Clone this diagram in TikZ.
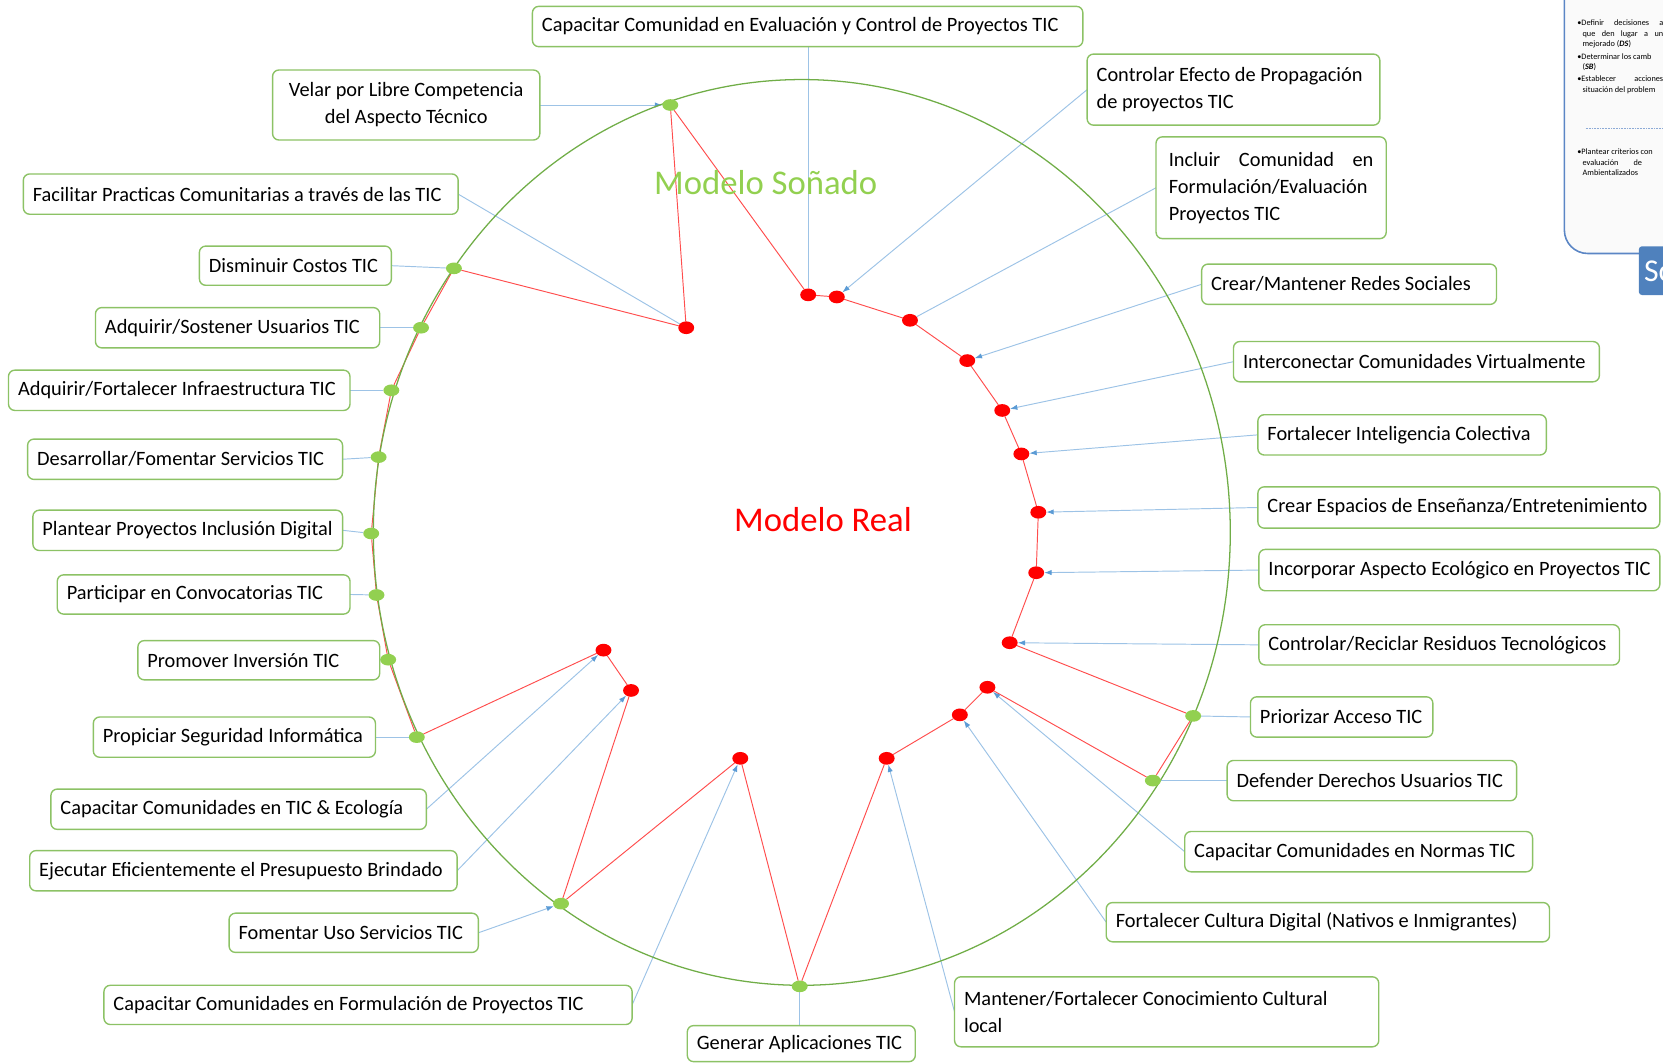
\documentclass[tikz,border=0pt]{standalone}
\usepackage{fontspec}
\setmainfont{Carlito}
\usetikzlibrary{shapes.geometric,arrows.meta}
\pgfdeclarelayer{bg}
\pgfsetlayers{bg,main}
\definecolor{boxgreen}{HTML}{8CC265}
\definecolor{dotgreen}{HTML}{92D050}
\definecolor{circgreen}{HTML}{70AD47}
\definecolor{dotred}{HTML}{FF0000}
\definecolor{redln}{HTML}{FF4D4D}
\definecolor{linkblue}{HTML}{9DC3E6}
\definecolor{tipblue}{HTML}{5B9BD5}
\definecolor{panelblue}{HTML}{5B86C5}
\definecolor{scblue}{HTML}{4F81BD}
\newcommand\addbox[6]{\node[box,minimum width={#4-#2},minimum height={#5-#3}] (#1) at ({(#2+#4)/2},{(#3+#5)/2}) {\makebox[\dimexpr#4pt-#2pt-18pt\relax][l]{#6}};}
\newcommand\addmbox[7]{\node[box,text width={#4-#2-18},align=#6,minimum height={#5-#3}] (#1) at ({(#2+#4)/2},{(#3+#5)/2}) {#7};}
\begin{document}
\begin{tikzpicture}[x=1pt,y=-1pt,
  box/.style={draw=boxgreen, line width=1.3pt, rounded corners=6pt, fill=white, inner xsep=9pt, inner ysep=0pt, outer sep=0pt, font=\fontsize{19.2}{25.5}\selectfont},
  rdot/.style={ellipse, fill=dotred, minimum width=15pt, minimum height=12pt, inner sep=0pt, outer sep=0pt},
  gdot/.style={ellipse, fill=dotgreen, minimum width=15pt, minimum height=11pt, inner sep=0pt, outer sep=0pt},
  link/.style={draw=linkblue, line width=0.9pt},
  arr/.style={link, -{Latex[length=7pt,width=5pt,color=tipblue]}},
  redpath/.style={draw=redln, line width=0.9pt},
  ptxt/.style={anchor=west, inner sep=0pt, font=\fontsize{7.8}{9}\selectfont},
]
\useasboundingbox (0,0) rectangle (1568,1002);
\clip (0,0) rectangle (1568,1002);

% big circle
\draw[circgreen, line width=1.2pt] (756,502) ellipse [x radius=404pt, y radius=427pt];

% titles
\node[text=dotgreen, font=\fontsize{32.7}{38}\selectfont] (sonado) at (722,172) {Modelo Soñado};
\node[text=dotred, font=\fontsize{32.7}{38}\selectfont] (real) at (776,490) {Modelo Real};

% right-top panel (cut)
\draw[panelblue, line width=1.5pt, fill=black!2, rounded corners=22pt] (1475,-40) rectangle (1620,239);
\node[ptxt] (p1) at (1487,21) {\makebox[81pt][s]{•Definir decisiones a}};
\node[ptxt] (p2) at (1492,32) {\makebox[76pt][s]{que den lugar a un}};
\node[ptxt] (p3) at (1492,42) {mejorado (\textbf{\textit{DS}})};
\node[ptxt] (p4) at (1487,53) {•Determinar los camb};
\node[ptxt] (p5) at (1492,63) {(\textbf{\textit{SB}})};
\node[ptxt] (p6) at (1487,74) {\makebox[81pt][s]{•Establecer acciones}};
\node[ptxt] (p7) at (1492,85) {situación del problem};
\draw[panelblue!70, densely dotted, line width=0.5pt] (1495,121) -- (1600,121);
\node[ptxt] (p8) at (1487,143) {•Plantear criterios con};
\node[ptxt] (p9) at (1492,153) {\makebox[56pt][s]{evaluación de}};
\node[ptxt] (p10) at (1492,163) {Ambientalizados};
\node[fill=scblue, rounded corners=3pt, minimum width=60pt, minimum height=46pt, anchor=north west] (scbox) at (1545,232) {};
\node[anchor=west, text=white, font=\fontsize{30}{34}\selectfont, inner sep=0pt] (sctext) at (1550,256) {Sc};

% dots
\node[gdot] (g1) at (632,99) {};
\node[gdot] (g2) at (428,253) {};
\node[gdot] (g3) at (397,309) {};
\node[gdot] (g4) at (369,368) {};
\node[gdot] (g5) at (357,431) {};
\node[gdot] (g6) at (350,503) {};
\node[gdot] (g7) at (355,561) {};
\node[gdot] (g8) at (366,622) {};
\node[gdot] (g9) at (393,695) {};
\node[gdot] (g10) at (529,852) {};
\node[gdot] (g11) at (754,930) {};
\node[gdot] (g12) at (1087,736) {};
\node[gdot] (g13) at (1125,675) {};
\node[rdot] (r1) at (647,309) {};
\node[rdot] (r2) at (762,278) {};
\node[rdot] (r3) at (789,280) {};
\node[rdot] (r4) at (858,302) {};
\node[rdot] (r5) at (912,340) {};
\node[rdot] (r6) at (945,387) {};
\node[rdot] (r7) at (963,428) {};
\node[rdot] (r8) at (979,483) {};
\node[rdot] (r9) at (977,540) {};
\node[rdot] (r10) at (952,606) {};
\node[rdot] (r11) at (931,648) {};
\node[rdot] (r12) at (905,674) {};
\node[rdot] (r13) at (836,715) {};
\node[rdot] (r14) at (698,715) {};
\node[rdot] (r15) at (595,651) {};
\node[rdot] (r16) at (569,613) {};

% boxes
\addbox{capeval}{502}{6}{1021}{44}{Capacitar Comunidad en Evaluación y Control de Proyectos TIC}
\addmbox{velar}{257}{66}{509}{132}{flush center}{Velar por Libre Competencia\\del Aspecto Técnico}
\addbox{facilitar}{22}{164}{432}{202}{Facilitar Practicas Comunitarias a través de las TIC}
\addbox{disminuir}{188}{232}{369}{269}{Disminuir Costos TIC}
\addbox{sostener}{90}{290}{358}{328}{Adquirir/Sostener Usuarios TIC}
\addbox{infra}{8}{349}{330}{387}{Adquirir/Fortalecer Infraestructura TIC}
\addbox{servicios}{26}{414}{323}{452}{Desarrollar/Fomentar Servicios TIC}
\addbox{plantear}{31}{481}{323}{519}{Plantear Proyectos Inclusión Digital}
\addbox{participar}{54}{542}{330}{579}{Participar en Convocatorias TIC}
\addbox{promover}{130}{604}{358}{641}{Promover Inversión TIC}
\addbox{propiciar}{88}{676}{354}{714}{Propiciar Seguridad Informática}
\addbox{ecologia}{48}{744}{402}{782}{Capacitar Comunidades en TIC \& Ecología}
\addbox{ejecutar}{28}{802}{431}{840}{Ejecutar Eficientemente el Presupuesto Brindado}
\addbox{fomentar}{216}{861}{451}{898}{Fomentar Uso Servicios TIC}
\addbox{formulacion}{98}{929}{596}{966}{Capacitar Comunidades en Formulación de Proyectos TIC}
\addbox{generar}{648}{967}{863}{1001}{Generar Aplicaciones TIC}
\addmbox{mantener}{900}{921}{1300}{987}{flush left}{Mantener/Fortalecer Conocimiento Cultural\\local}
\addbox{cultura}{1043}{851}{1461}{888}{Fortalecer Cultura Digital (Nativos e Inmigrantes)}
\addbox{normas}{1117}{784}{1445}{822}{Capacitar Comunidades en Normas TIC}
\addbox{defender}{1157}{717}{1430}{755}{Defender Derechos Usuarios TIC}
\addbox{priorizar}{1179}{657}{1351}{695}{Priorizar Acceso TIC}
\addbox{reciclar}{1187}{589}{1527}{627}{Controlar/Reciclar Residuos Tecnológicos}
\addbox{ecologico}{1187}{518}{1565}{557}{Incorporar Aspecto Ecológico en Proyectos TIC}
\addbox{espacios}{1186}{459}{1565}{498}{Crear Espacios de Enseñanza/Entretenimiento}
\addbox{inteligencia}{1186}{391}{1458}{429}{Fortalecer Inteligencia Colectiva}
\addbox{interconectar}{1163}{322}{1508}{360}{Interconectar Comunidades Virtualmente}
\addbox{redes}{1133}{249}{1411}{287}{Crear/Mantener Redes Sociales}
\node[box,text width=193pt,inner xsep=12pt,align=flush left,minimum height=96pt] (incluir) at (1198.5,177) {Incluir\hfill Comunidad\hfill en\\Formulación/Evaluación\\Proyectos TIC};
\addmbox{propagacion}{1025}{51}{1301}{118}{flush left}{Controlar Efecto de Propagación\\de proyectos TIC}

\begin{pgfonlayer}{bg}
% red loop
\draw[redpath] (g1) -- (r1) -- (g2) -- (g3) -- (g4) -- (g5) -- (g6) -- (g7) -- (g8) -- (g9)
  -- (r16) -- (r15) -- (g10) -- (r14) -- (g11) -- (r13) -- (r12) -- (r11) -- (g12) -- (g13)
  -- (r10) -- (r9) -- (r8) -- (r7) -- (r6) -- (r5) -- (r4) -- (r3) -- (r2) -- (g1);
% blue links
\draw[link] (capeval.south -| r2) -- (r2);
\draw[arr] (velar.east) -- (g1);
\draw[link] (facilitar.east) -- (r1);
\draw[link] (disminuir.east) -- (g2);
\draw[link] (sostener.east) -- (g3);
\draw[link] (infra.east) -- (g4);
\draw[link] (servicios.east) -- (g5);
\draw[link] (plantear.east) -- (g6);
\draw[link] (participar.east) -- (g7);
\draw[link] (promover.east) -- (g8);
\draw[link] (propiciar.east) -- (g9);
\draw[arr] (ecologia.east) -- (r16);
\draw[arr] (ejecutar.east) -- (r15);
\draw[arr] (fomentar.east) -- (g10);
\draw[arr] (formulacion.east) -- (r14);
\draw[link] (generar.north -| g11) -- (g11);
\draw[arr] (mantener.west) -- (r13);
\draw[arr] (cultura.west) -- (r12);
\draw[arr] (normas.west) -- (r11);
\draw[link] (defender.west) -- (g12);
\draw[link] (priorizar.west) -- (g13);
\draw[arr] (reciclar.west) -- (r10);
\draw[arr] (ecologico.west) -- (r9);
\draw[arr] (espacios.west) -- (r8);
\draw[arr] (inteligencia.west) -- (r7);
\draw[arr] (interconectar.west) -- (r6);
\draw[arr] (redes.west) -- (r5);
\draw[link] (incluir.west) -- (r4);
\draw[arr] (propagacion.west) -- (r3);
\end{pgfonlayer}
\end{tikzpicture}
\end{document}
